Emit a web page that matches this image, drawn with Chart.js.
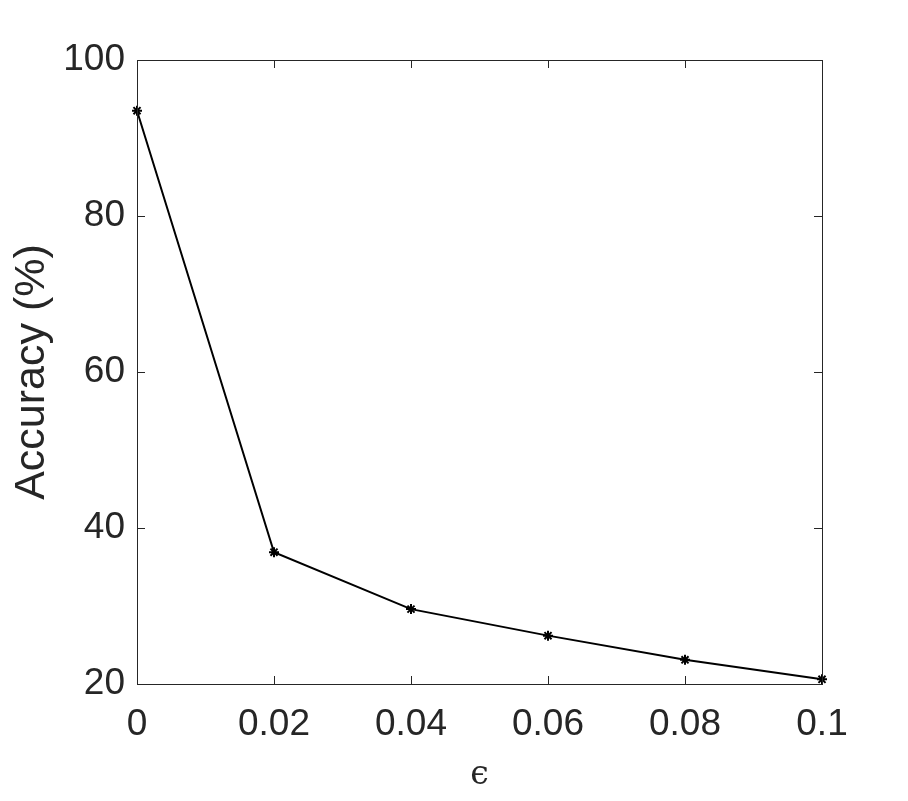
<!DOCTYPE html>
<html>
<head>
<meta charset="utf-8">
<script src="https://cdn.jsdelivr.net/npm/chart.js@4/dist/chart.umd.min.js"></script>
<style>
  html, body { margin: 0; padding: 0; background: #fff; }
  #wrap { width: 908px; height: 801px; }
</style>
</head>
<body>
<div id="wrap"><canvas id="accChart" width="908" height="801"></canvas></div>
<script>
// data
const epsilonValues = [0, 0.02, 0.04, 0.06, 0.08, 0.1];
const accuracyValues = [93.5, 36.9, 29.6, 26.2, 23.1, 20.6];
const xTicks = [0, 0.02, 0.04, 0.06, 0.08, 0.1];
const xTickLabels = ['0', '0.02', '0.04', '0.06', '0.08', '0.1'];
const yTicks = [20, 40, 60, 80, 100];

const axisColor = '#262626';
const tickFont = { family: 'Liberation Sans, Arial, sans-serif', size: 37 };

// box around plot + inward tick marks on all four sides (MATLAB look)
const boxPlugin = {
    id: 'boxTicks',
    afterDatasetsDraw(chart) {
        const { ctx, chartArea: a, scales } = chart;
        const len = 8;
        ctx.save();
        ctx.strokeStyle = axisColor;
        ctx.lineWidth = 1;
        ctx.strokeRect(a.left + 0.5, a.top + 0.5, a.right - a.left, a.bottom - a.top);
        ctx.beginPath();
        xTicks.forEach(v => {
            const px = Math.round(scales.x.getPixelForValue(v)) + 0.5;
            ctx.moveTo(px, a.bottom); ctx.lineTo(px, a.bottom - len);
            ctx.moveTo(px, a.top); ctx.lineTo(px, a.top + len);
        });
        yTicks.forEach(v => {
            const py = Math.round(scales.y.getPixelForValue(v)) + 0.5;
            ctx.moveTo(a.left, py); ctx.lineTo(a.left + len, py);
            ctx.moveTo(a.right, py); ctx.lineTo(a.right - len, py);
        });
        ctx.stroke();
        ctx.restore();
    }
};

new Chart(document.getElementById('accChart'), {
    type: 'line',
    data: {
        datasets: [{
            data: epsilonValues.map((e, i) => ({ x: e, y: accuracyValues[i] })),
            borderColor: '#000',
            backgroundColor: '#000',
            borderWidth: 2,
            pointStyle: 'star',
            pointRadius: 5,
            pointBorderWidth: 2,
            pointBorderColor: '#000',
            tension: 0,
            clip: false
        }]
    },
    options: {
        responsive: false,
        animation: false,
        layout: { padding: { top: 60, right: 86, left: 0, bottom: 0 } },
        plugins: { legend: { display: false }, tooltip: { enabled: false } },
        scales: {
            x: {
                type: 'linear',
                min: 0, max: 0.1,
                afterBuildTicks: s => { s.ticks = xTicks.map(v => ({ value: v })); },
                afterFit: s => { s.height = 117; },
                grid: { display: false },
                border: { display: false },
                ticks: {
                    color: axisColor,
                    font: tickFont,
                    padding: 11,
                    maxRotation: 0,
                    autoSkip: false,
                    callback: (v, i) => xTickLabels[i]
                },
                title: {
                    display: true,
                    text: 'ϵ',
                    color: axisColor,
                    font: { family: 'DejaVu Serif, serif', size: 33 },
                    padding: { top: 0, bottom: 6 }
                }
            },
            y: {
                min: 20, max: 100,
                afterBuildTicks: s => { s.ticks = yTicks.map(v => ({ value: v })); },
                afterFit: s => { s.width = 137; },
                grid: { display: false },
                border: { display: false },
                ticks: {
                    color: axisColor,
                    font: tickFont,
                    padding: 4
                },
                title: {
                    display: true,
                    text: 'Accuracy (%)',
                    color: axisColor,
                    font: { family: 'Liberation Sans, Arial, sans-serif', size: 43 },
                    padding: { top: 6, bottom: 0 }
                }
            }
        }
    },
    plugins: [boxPlugin]
});
</script>
</body>
</html>
